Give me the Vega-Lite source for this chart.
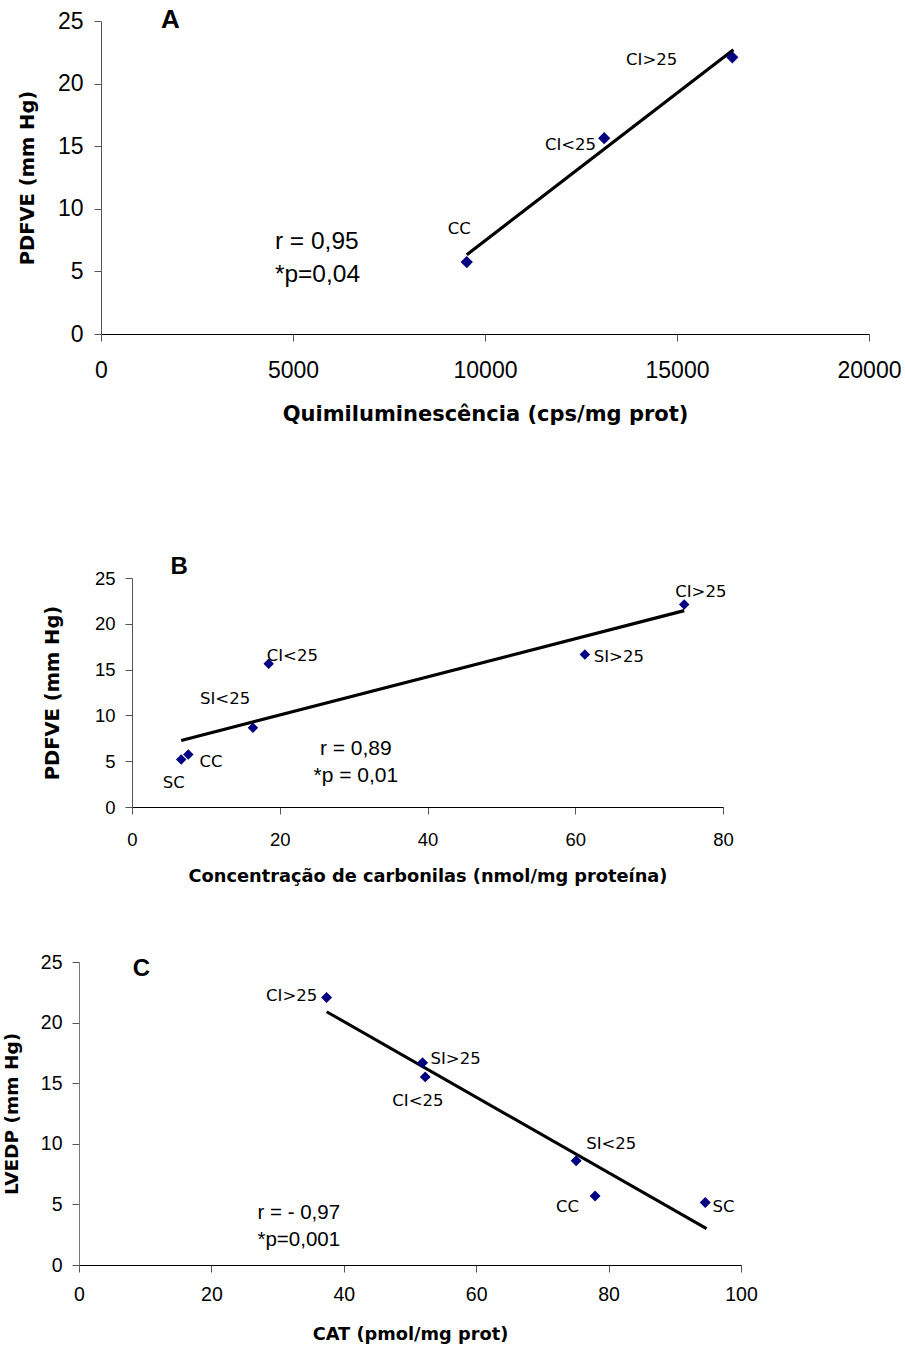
{
  "$schema": "https://vega.github.io/schema/vega-lite/v6.json",
  "padding": {"left": 0, "top": 6, "right": 0, "bottom": 0},
  "background": "white",
  "spacing": 131,
  "config": {
    "view": {"stroke": null},
    "axis": {"grid": false, "labelFont": "Liberation Sans", "labelColor": "#000", "titleFont": "DejaVu Sans", "titleFontWeight": "bold", "titleColor": "#000", "tickColor": "#555", "domainColor": "#000"}
  },
  "datasets": {
    "none": [],
    "a_pts": [
      {"g": "CC", "x": 9525, "y": 5.75},
      {"g": "CI<25", "x": 13104, "y": 15.64},
      {"g": "CI>25", "x": 16440, "y": 22.1}
    ],
    "a_line": [
      {"x": 9525, "y": 6.33},
      {"x": 16469, "y": 22.7}
    ],
    "a_lab": [
      {"t": "CC", "x": 9330, "y": 8.38},
      {"t": "CI<25", "x": 12227, "y": 15.1},
      {"t": "CI>25", "x": 14340, "y": 21.9}
    ],
    "a_txt": [
      {"t": "r = 0,95", "x": 4528, "y": 7.31},
      {"t": "*p=0,04", "x": 4528, "y": 4.73}
    ],
    "a_id": [{"t": "A", "x": 1809, "y": 25.09}],
    "b_pts": [
      {"g": "SC", "x": 6.66, "y": 5.19},
      {"g": "CC", "x": 7.62, "y": 5.74},
      {"g": "SI<25", "x": 16.37, "y": 8.65},
      {"g": "CI<25", "x": 18.5, "y": 15.63},
      {"g": "SI>25", "x": 61.3, "y": 16.64},
      {"g": "CI>25", "x": 74.75, "y": 22.1}
    ],
    "b_line": [
      {"x": 6.66, "y": 7.26},
      {"x": 74.75, "y": 21.44}
    ],
    "b_lab": [
      {"t": "SC", "x": 5.64, "y": 2.6},
      {"t": "CC", "x": 10.7, "y": 4.9},
      {"t": "SI<25", "x": 12.6, "y": 11.8},
      {"t": "CI<25", "x": 21.7, "y": 16.53},
      {"t": "SI>25", "x": 65.9, "y": 16.36},
      {"t": "CI>25", "x": 77.0, "y": 23.45}
    ],
    "b_txt": [
      {"t": "r = 0,89", "x": 30.3, "y": 6.36},
      {"t": "*p = 0,01", "x": 30.3, "y": 3.38}
    ],
    "b_id": [{"t": "B", "x": 6.38, "y": 26.2}],
    "c_pts": [
      {"g": "CI>25", "x": 37.4, "y": 22.07},
      {"g": "SI>25", "x": 51.9, "y": 16.68},
      {"g": "CI<25", "x": 52.3, "y": 15.52},
      {"g": "SI<25", "x": 75.1, "y": 8.6},
      {"g": "CC", "x": 77.96, "y": 5.69},
      {"g": "SC", "x": 94.6, "y": 5.16}
    ],
    "c_line": [
      {"x": 37.4, "y": 20.9},
      {"x": 94.8, "y": 3.0}
    ],
    "c_lab_r": [{"t": "CI>25", "x": 36.0, "y": 22.2}],
    "c_lab_l": [
      {"t": "SI>25", "x": 53.1, "y": 17.0},
      {"t": "SC", "x": 95.7, "y": 4.8}
    ],
    "c_lab_c": [
      {"t": "CI<25", "x": 51.2, "y": 13.55},
      {"t": "SI<25", "x": 80.4, "y": 9.97},
      {"t": "CC", "x": 73.8, "y": 4.8}
    ],
    "c_txt": [
      {"t": "r = - 0,97", "x": 33.2, "y": 4.26},
      {"t": "*p=0,001", "x": 33.2, "y": 2.06}
    ],
    "c_id": [{"t": "C", "x": 9.43, "y": 24.46}]
  },
  "vconcat": [
    {
      "spacing": 0,
      "hconcat": [
        {"width": 17, "height": 1, "view": {"fill": "white", "stroke": null}, "data": {"name": "none"}, "mark": "point"},
        {
          "width": 768,
          "height": 313,
          "encoding": {
            "x": {"field": "x", "type": "quantitative", "scale": {"domain": [0, 20000], "nice": false},
              "axis": {"values": [0, 5000, 10000, 15000, 20000], "format": "d", "title": "Quimiluminescência (cps/mg prot)", "labelFontSize": 23, "titleFontSize": 21, "tickSize": 7, "labelPadding": 18, "titlePadding": 21, "labelFlush": false}},
            "y": {"field": "y", "type": "quantitative", "scale": {"domain": [0, 25], "nice": false},
              "axis": {"values": [0, 5, 10, 15, 20, 25], "title": "PDFVE (mm Hg)", "labelFontSize": 23, "titleFontSize": 19.5, "tickSize": 7, "labelPadding": 11, "titlePadding": 20, "domainColor": "#555", "labelFlush": false}}
          },
          "layer": [
            {"data": {"name": "a_line"}, "mark": {"type": "line", "color": "#000", "strokeWidth": 3.2}},
            {"data": {"name": "a_pts"}, "mark": {"type": "point", "shape": "diamond", "filled": true, "color": "#000080", "opacity": 1, "size": 150}},
            {"data": {"name": "a_lab"}, "mark": {"type": "text", "font": "DejaVu Sans", "fontSize": 16.5, "color": "#000", "align": "center", "baseline": "middle"}, "encoding": {"text": {"field": "t"}}},
            {"data": {"name": "a_txt"}, "mark": {"type": "text", "font": "Liberation Sans", "fontSize": 24.5, "color": "#000", "align": "left", "baseline": "middle"}, "encoding": {"text": {"field": "t"}}},
            {"data": {"name": "a_id"}, "mark": {"type": "text", "font": "Liberation Sans", "fontWeight": "bold", "fontSize": 26, "color": "#000", "align": "center", "baseline": "middle"}, "encoding": {"text": {"field": "t"}}}
          ]
        }
      ]
    },
    {
      "spacing": 66,
      "vconcat": [
        {
          "spacing": 0,
          "hconcat": [
            {"width": 42, "height": 1, "view": {"fill": "white", "stroke": null}, "data": {"name": "none"}, "mark": "point"},
            {
              "width": 591,
              "height": 229,
              "encoding": {
                "x": {"field": "x", "type": "quantitative", "scale": {"domain": [0, 80], "nice": false},
                  "axis": {"values": [0, 20, 40, 60, 80], "title": "Concentração de carbonilas (nmol/mg proteína)", "labelFontSize": 18.5, "titleFontSize": 17.8, "tickSize": 7, "labelPadding": 16, "titlePadding": 19, "labelFlush": false}},
                "y": {"field": "y", "type": "quantitative", "scale": {"domain": [0, 25], "nice": false},
                  "axis": {"values": [0, 5, 10, 15, 20, 25], "title": "PDFVE (mm Hg)", "labelFontSize": 18.5, "titleFontSize": 19.5, "tickSize": 7, "labelPadding": 10, "titlePadding": 32, "domainColor": "#555", "labelFlush": false}}
              },
              "layer": [
                {"data": {"name": "b_line"}, "mark": {"type": "line", "color": "#000", "strokeWidth": 3.2}},
                {"data": {"name": "b_pts"}, "mark": {"type": "point", "shape": "diamond", "filled": true, "color": "#000080", "opacity": 1, "size": 110}},
                {"data": {"name": "b_lab"}, "mark": {"type": "text", "font": "DejaVu Sans", "fontSize": 16.5, "color": "#000", "align": "center", "baseline": "middle"}, "encoding": {"text": {"field": "t"}}},
                {"data": {"name": "b_txt"}, "mark": {"type": "text", "font": "Liberation Sans", "fontSize": 21, "color": "#000", "align": "center", "baseline": "middle"}, "encoding": {"text": {"field": "t"}}},
                {"data": {"name": "b_id"}, "mark": {"type": "text", "font": "Liberation Sans", "fontWeight": "bold", "fontSize": 24, "color": "#000", "align": "center", "baseline": "middle"}, "encoding": {"text": {"field": "t"}}}
              ]
            }
          ]
        },
        {
          "spacing": 0,
          "hconcat": [
            {"width": 2, "height": 1, "view": {"fill": "white", "stroke": null}, "data": {"name": "none"}, "mark": "point"},
            {
              "width": 662,
              "height": 303,
              "encoding": {
                "x": {"field": "x", "type": "quantitative", "scale": {"domain": [0, 100], "nice": false},
                  "axis": {"values": [0, 20, 40, 60, 80, 100], "title": "CAT (pmol/mg prot)", "labelFontSize": 19.5, "titleFontSize": 17.8, "tickSize": 7, "labelPadding": 13, "titlePadding": 22, "labelFlush": false}},
                "y": {"field": "y", "type": "quantitative", "scale": {"domain": [0, 25], "nice": false},
                  "axis": {"values": [0, 5, 10, 15, 20, 25], "title": "LVEDP (mm Hg)", "labelFontSize": 19.5, "titleFontSize": 18.5, "tickSize": 7, "labelPadding": 10, "titlePadding": 19, "domainColor": "#777", "labelFlush": false}}
              },
              "layer": [
                {"data": {"name": "c_line"}, "mark": {"type": "line", "color": "#000", "strokeWidth": 3}},
                {"data": {"name": "c_pts"}, "mark": {"type": "point", "shape": "diamond", "filled": true, "color": "#000080", "opacity": 1, "size": 120}},
                {"data": {"name": "c_lab_r"}, "mark": {"type": "text", "font": "DejaVu Sans", "fontSize": 16.5, "color": "#000", "align": "right", "baseline": "middle"}, "encoding": {"text": {"field": "t"}}},
                {"data": {"name": "c_lab_l"}, "mark": {"type": "text", "font": "DejaVu Sans", "fontSize": 16.5, "color": "#000", "align": "left", "baseline": "middle"}, "encoding": {"text": {"field": "t"}}},
                {"data": {"name": "c_lab_c"}, "mark": {"type": "text", "font": "DejaVu Sans", "fontSize": 16.5, "color": "#000", "align": "center", "baseline": "middle"}, "encoding": {"text": {"field": "t"}}},
                {"data": {"name": "c_txt"}, "mark": {"type": "text", "font": "Liberation Sans", "fontSize": 20.5, "color": "#000", "align": "center", "baseline": "middle"}, "encoding": {"text": {"field": "t"}}},
                {"data": {"name": "c_id"}, "mark": {"type": "text", "font": "Liberation Sans", "fontWeight": "bold", "fontSize": 24, "color": "#000", "align": "center", "baseline": "middle"}, "encoding": {"text": {"field": "t"}}}
              ]
            }
          ]
        }
      ]
    }
  ]
}
